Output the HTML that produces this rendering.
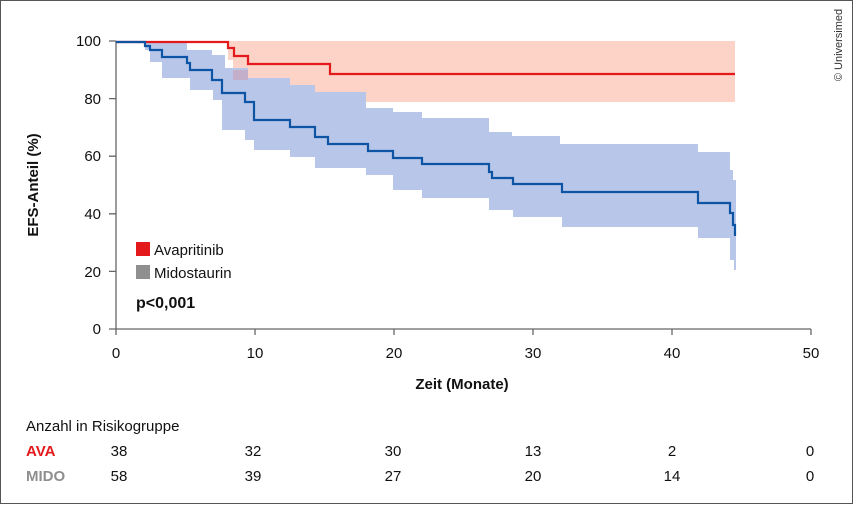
<!DOCTYPE html>
<html><head><meta charset="utf-8"><style>
html,body{margin:0;padding:0;background:#fff}
svg{display:block}
text{font-family:"Liberation Sans",sans-serif;fill:#111}
</style></head><body>
<svg width="854" height="505" viewBox="0 0 854 505" xmlns="http://www.w3.org/2000/svg">
<rect x="0.5" y="0.5" width="852" height="503" fill="#fff" stroke="#555" stroke-width="1"/>
<!-- red band -->
<path d="M228,41 L735,41 L735,102 L328,102 L328,92 L295,92 L295,90 L248,90 L248,80 L233,80 L233,60 L228,60 Z" fill="#fdd3c7"/>
<!-- blue band -->
<path d="M145,41 L187,41 L187,50 L212,50 L212,55 L225,55 L225,68 L248,68 L248,78 L290,78 L290,85 L315,85 L315,92 L366,92 L366,108 L393,108 L393,112 L422,112 L422,118 L489,118 L489,132 L512,132 L512,136 L560,136 L560,144 L698,144 L698,152 L730,152 L730,170 L733,170 L733,180 L736,180 L736,270 L734,270 L734,260 L730,260 L730,238 L698,238 L698,227 L562,227 L562,217 L513,217 L513,210 L489,210 L489,198 L422,198 L422,190 L393,190 L393,175 L366,175 L366,168 L315,168 L315,157 L290,157 L290,150 L254,150 L254,140 L245,140 L245,130 L222,130 L222,100 L213,100 L213,90 L190,90 L190,78 L162,78 L162,62 L150,62 L150,50 L145,50 Z" fill="#b8c7e9"/>
<rect x="233" y="70" width="15" height="10" fill="#c4afcb"/>
<!-- axes -->
<g stroke="#666" stroke-width="1.3" fill="none">
<path d="M116,41 V329 H811"/>
<path d="M109,41H116 M109,98.6H116 M109,156.2H116 M109,213.8H116 M109,271.4H116 M109,329H116"/>
<path d="M116,329V335 M255,329V335 M394,329V335 M533,329V335 M672,329V335 M811,329V335"/>
</g>
<!-- red line -->
<polyline fill="none" stroke="#e3191b" stroke-width="2.2" points="116,42 228,42 228,48 234,48 234,56 248,56 248,64 330,64 330,74 735,74"/>
<!-- blue line -->
<polyline fill="none" stroke="#0d55a4" stroke-width="2.2" points="116,42 145,42 145,46 150,46 150,50 162,50 162,57 187,57 187,63 190,63 190,70 212,70 212,80 222,80 222,93 245,93 245,102 254,102 254,120 290,120 290,127 315,127 315,137 328,137 328,144 368,144 368,151 393,151 393,158 422,158 422,164 489,164 489,172 492,172 492,178 513,178 513,184 562,184 562,192 698,192 698,203 730,203 730,213 733,213 733,225 735,225 735,236"/>
<g font-size="15" text-anchor="end">
<text x="101" y="46">100</text><text x="101" y="104">80</text><text x="101" y="161">60</text>
<text x="101" y="219">40</text><text x="101" y="277">20</text><text x="101" y="334">0</text>
</g>
<g font-size="15" text-anchor="middle">
<text x="116" y="358">0</text><text x="255" y="358">10</text><text x="394" y="358">20</text>
<text x="533" y="358">30</text><text x="672" y="358">40</text><text x="811" y="358">50</text>
</g>
<text x="462" y="389" font-size="15" font-weight="bold" text-anchor="middle">Zeit (Monate)</text>
<text transform="translate(38,185) rotate(-90)" font-size="15" font-weight="bold" text-anchor="middle">EFS-Anteil (%)</text>
<rect x="136" y="242" width="14" height="14" fill="#e3191b"/>
<text x="154" y="255" font-size="15">Avapritinib</text>
<rect x="136" y="265" width="14" height="14" fill="#8f8f8f"/>
<text x="154" y="278" font-size="15">Midostaurin</text>
<text x="136" y="308" font-size="16" font-weight="bold">p&lt;0,001</text>
<text x="26" y="431" font-size="15">Anzahl in Risikogruppe</text>
<text x="26" y="456" font-size="15" font-weight="bold" style="fill:#e3191b">AVA</text>
<text x="26" y="481" font-size="15" font-weight="bold" style="fill:#8f8f8f">MIDO</text>
<g font-size="15" text-anchor="middle">
<text x="119" y="456">38</text><text x="253" y="456">32</text><text x="393" y="456">30</text><text x="533" y="456">13</text><text x="672" y="456">2</text><text x="810" y="456">0</text>
<text x="119" y="481">58</text><text x="253" y="481">39</text><text x="393" y="481">27</text><text x="533" y="481">20</text><text x="672" y="481">14</text><text x="810" y="481">0</text>
</g>
<text transform="translate(842,45) rotate(-90)" font-size="11" text-anchor="middle" style="fill:#333">© Universimed</text>
</svg>
</body></html>
